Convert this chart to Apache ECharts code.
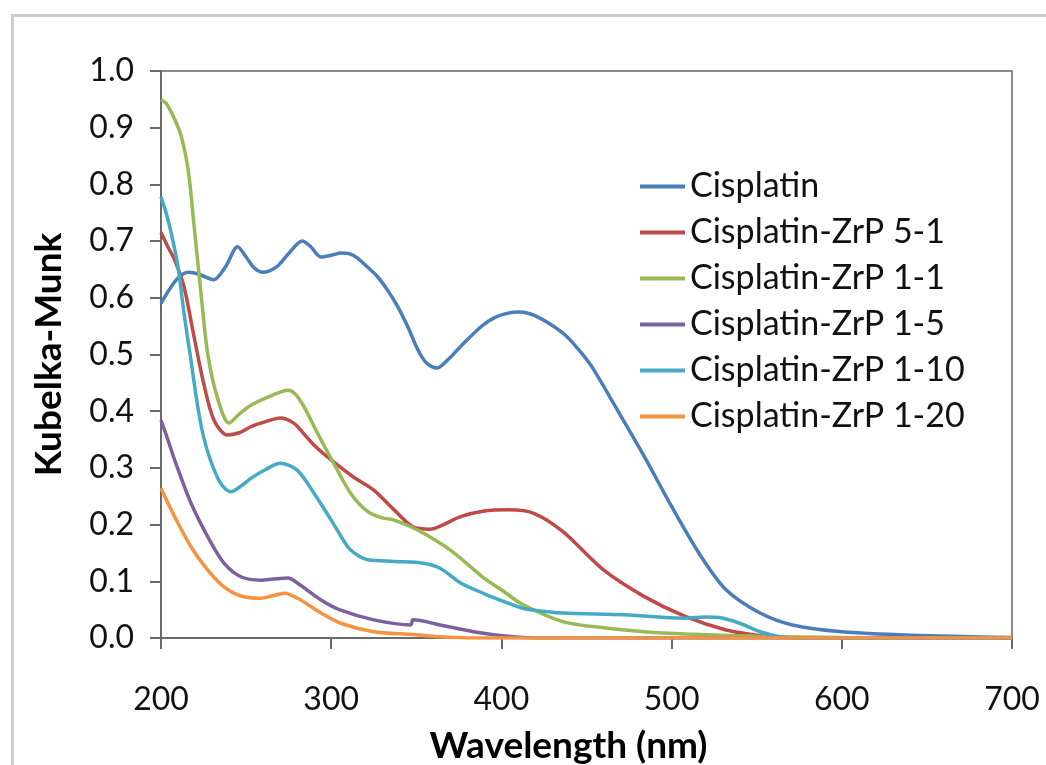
<!DOCTYPE html>
<html>
<head>
<meta charset="utf-8">
<script src="https://cdn.jsdelivr.net/npm/echarts@6/dist/echarts.min.js"></script>
<style>
  html, body { margin: 0; padding: 0; background: #fff; }
  #main { width: 1046px; height: 765px; }
</style>
</head>
<body>
<div id="main"></div>
<script>
// 数据 [wavelength nm, Kubelka-Munk]
var seriesNames = ['Cisplatin', 'Cisplatin-ZrP 5-1', 'Cisplatin-ZrP 1-1', 'Cisplatin-ZrP 1-5', 'Cisplatin-ZrP 1-10', 'Cisplatin-ZrP 1-20'];

var cisplatin = [[200,0.59],[205,0.615],[210,0.635],[216,0.645],[222,0.642],[231,0.632],[238,0.655],[245,0.69],[250,0.672],[255,0.652],[260,0.645],[268,0.655],[275,0.678],[283,0.70],[288,0.69],[294,0.672],[300,0.675],[306,0.679],[313,0.675],[321,0.655],[327,0.638],[333,0.614],[339,0.585],[345,0.549],[351,0.508],[356,0.485],[362,0.476],[369,0.492],[376,0.514],[388,0.549],[396,0.565],[404,0.573],[410,0.575],[420,0.568],[436,0.538],[445,0.51],[453,0.479],[467,0.408],[484,0.32],[500,0.232],[516,0.15],[532,0.085],[552,0.044],[571,0.023],[600,0.011],[641,0.005],[700,0.001]];

var zrp5_1 = [[200,0.715],[204,0.69],[208,0.667],[213.5,0.62],[219.5,0.53],[225,0.45],[231,0.385],[239,0.358],[246,0.362],[253,0.373],[262,0.382],[270,0.388],[278,0.379],[284,0.36],[290,0.34],[300,0.314],[313,0.284],[325,0.261],[337,0.226],[348,0.196],[358,0.192],[366,0.2],[376,0.214],[390,0.224],[404,0.226],[419,0.22],[436,0.188],[460,0.12],[484,0.073],[508,0.038],[532,0.014],[552,0.004],[565,0.001],[700,0]];

var zrp1_1 = [[200,0.949],[203,0.943],[208,0.915],[212,0.884],[216,0.825],[219.5,0.725],[223.5,0.608],[227.5,0.50],[233.5,0.42],[240,0.379],[246,0.395],[253,0.411],[266,0.429],[274.5,0.437],[279,0.43],[284,0.408],[292,0.361],[301.5,0.308],[311.5,0.255],[321.5,0.223],[330,0.212],[337,0.208],[351,0.19],[370,0.155],[390,0.105],[400,0.085],[412,0.06],[436,0.029],[460,0.018],[484,0.011],[508,0.007],[550,0.003],[600,0.001],[700,0]];

var zrp1_5 = [[200,0.384],[204,0.35],[208,0.314],[217.6,0.238],[227.4,0.179],[237,0.132],[247,0.108],[258.7,0.102],[266,0.104],[274.5,0.106],[282,0.093],[294,0.067],[305.6,0.049],[325,0.032],[346.7,0.023],[348,0.032],[364,0.023],[383.7,0.011],[403.6,0.003],[420,0],[700,0]];

var zrp1_10 = [[200,0.778],[203,0.75],[206,0.714],[210,0.655],[213.5,0.573],[217.6,0.49],[221.6,0.408],[225,0.355],[229,0.314],[235,0.273],[241,0.258],[247,0.268],[253,0.282],[262,0.298],[270,0.308],[280,0.296],[290,0.255],[300,0.208],[309.7,0.161],[316,0.145],[321.5,0.138],[337,0.135],[354,0.132],[364,0.123],[376,0.097],[390,0.078],[400,0.066],[412,0.053],[419,0.049],[436,0.044],[472,0.041],[508,0.035],[520,0.037],[528,0.036],[540,0.026],[552,0.011],[564,0.002],[575,0],[700,0]];

var zrp1_20 = [[200,0.264],[208,0.214],[217.6,0.161],[227.4,0.12],[237,0.09],[247,0.074],[258.7,0.07],[265,0.074],[272.6,0.079],[282,0.067],[294,0.044],[305.6,0.026],[325,0.011],[348,0.006],[364,0.002],[380,0],[700,0]];

var allData = [cisplatin, zrp5_1, zrp1_1, zrp1_5, zrp1_10, zrp1_20];

var chart = echarts.init(document.getElementById('main'));

var option = {
    backgroundColor: '#fff',
    animation: false,
    color: ['#4A7EBB', '#BE4B48', '#98B954', '#7D60A0', '#46AAC5', '#F69240'],
    graphic: [{
        type: 'rect',
        left: 10, top: 13,
        shape: { width: 1200, height: 900 },
        style: { fill: 'none', stroke: '#cccccc', lineWidth: 3 },
        silent: true
    }],
    legend: {
        orient: 'vertical',
        left: 635,
        top: 163,
        icon: 'rect',
        itemWidth: 45,
        itemHeight: 4,
        itemGap: 9,
        textStyle: {
            fontFamily: 'Lato',
            fontSize: 34,
            lineHeight: 37,
            color: '#111'
        },
        data: seriesNames
    },
    grid: {
        left: 161,
        right: 34,
        top: 71,
        bottom: 127,
        outerBoundsMode: 'none',
        containLabel: false,
        show: true,
        borderColor: '#8a8a8a',
        borderWidth: 2,
        backgroundColor: 'transparent'
    },
    xAxis: {
        type: 'value',
        min: 200,
        max: 700,
        interval: 100,
        name: 'Wavelength (nm)',
        nameLocation: 'middle',
        nameGap: 90,
        nameTextStyle: {
            fontFamily: 'Lato',
            fontWeight: 'bold',
            fontSize: 37,
            color: '#000',
            padding: [0, 36, 0, 0]
        },
        axisLine: { lineStyle: { color: '#6a6a6a', width: 2 } },
        axisTick: { show: true, inside: false, length: 11, lineStyle: { color: '#6a6a6a', width: 2 } },
        axisLabel: {
            fontFamily: 'Lato',
            fontSize: 32,
            color: '#111',
            margin: 46
        },
        splitLine: { show: false }
    },
    yAxis: {
        type: 'value',
        min: 0,
        max: 1,
        interval: 0.1,
        name: 'Kubelka-Munk',
        nameLocation: 'middle',
        nameGap: 93,
        nameTextStyle: {
            fontFamily: 'Lato',
            fontWeight: 'bold',
            fontSize: 37,
            color: '#000'
        },
        axisLine: { show: true, lineStyle: { color: '#6a6a6a', width: 2 } },
        axisTick: { show: true, inside: false, length: 11, lineStyle: { color: '#6a6a6a', width: 2 } },
        axisLabel: {
            fontFamily: 'Lato',
            fontSize: 32,
            color: '#111',
            margin: 27,
            formatter: function (v) { return v.toFixed(1); }
        },
        splitLine: { show: false }
    },
    series: allData.map(function (d, i) {
        return {
            name: seriesNames[i],
            type: 'line',
            data: d,
            showSymbol: false,
            smooth: 0.3,
            lineStyle: { width: 3.5 }
        };
    })
};

chart.setOption(option);
</script>
</body>
</html>
